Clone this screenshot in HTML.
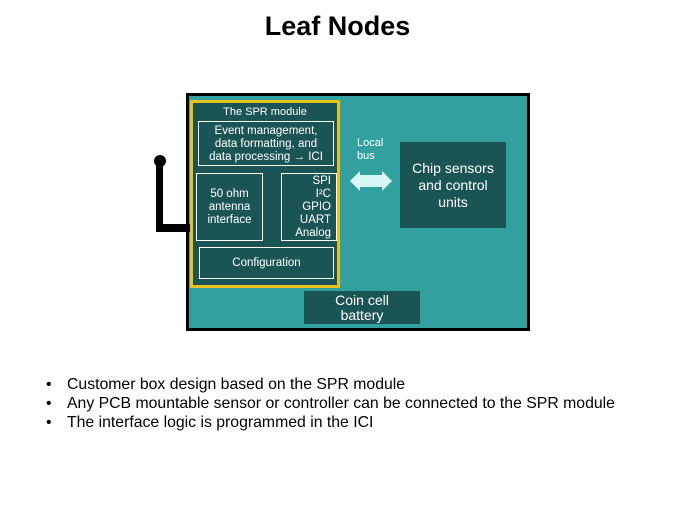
<!DOCTYPE html>
<html><head><meta charset="utf-8"><style>
body{margin:0;width:675px;height:506px;background:#fff;position:relative;font-family:"Liberation Sans",sans-serif;overflow:hidden}
.a{position:absolute;box-sizing:border-box}
.d{background:#1b5454;color:#fff;text-align:center}
.w{border:1px solid #fff}
</style></head><body>
<div class="a" style="left:0;top:11px;width:675px;text-align:center;font-size:27px;font-weight:bold;color:#000">Leaf Nodes</div>
<div class="a" style="left:186px;top:93px;width:344px;height:238px;background:#33a0a0;border:3px solid #000"></div>
<div class="a" style="left:156px;top:161px;width:7px;height:71px;background:#000"></div>
<div class="a" style="left:156px;top:224px;width:34px;height:8px;background:#000"></div>
<div class="a" style="left:154px;top:155px;width:12px;height:12px;border-radius:50%;background:#000"></div>
<div class="a d" style="left:190px;top:100px;width:150px;height:188px;border:3px solid #e8c020"></div>
<div class="a" style="left:193px;top:106px;width:144px;text-align:center;color:#fff;font-size:11px">The SPR module</div>
<div class="a d w" style="left:198px;top:121px;width:136px;height:45px;font-size:11.5px;line-height:13px;padding-top:3px;white-space:nowrap">Event management,<br>data formatting, and<br>data processing → ICI</div>
<div class="a d w" style="left:196px;top:173px;width:67px;height:68px;font-size:11.5px;line-height:13px;padding-top:14px">50 ohm<br>antenna<br>interface</div>
<div class="a d w" style="left:281px;top:173px;width:56px;height:68px;font-size:11.5px;line-height:13px;text-align:right;padding-right:5px;padding-top:1px">SPI<br>I²C<br>GPIO<br>UART<br>Analog</div>
<div class="a d w" style="left:199px;top:247px;width:135px;height:32px;font-size:11.5px;line-height:30px">Configuration</div>
<div class="a" style="left:357px;top:137px;color:#fff;font-size:11px;line-height:13px">Local<br>bus</div>
<svg class="a" style="left:348px;top:168px" width="46" height="26"><polygon points="2,13 12,3 12,7 34,7 34,3 44,13 34,23 34,19 12,19 12,23" fill="#d8f8f8"/></svg>
<div class="a d" style="left:400px;top:142px;width:106px;height:86px;font-size:14px;line-height:17px;padding-top:18px">Chip sensors<br>and control<br>units</div>
<div class="a d" style="left:304px;top:291px;width:116px;height:33px;font-size:14px;line-height:15px;padding-top:2px">Coin cell<br>battery</div>
<div class="a" style="left:0;top:375px;font-size:15.8px;line-height:19px;color:#000">
<div style="position:relative;padding-left:67px"><span style="position:absolute;left:46px">•</span>Customer box design based on the SPR module</div>
<div style="position:relative;padding-left:67px;white-space:nowrap"><span style="position:absolute;left:46px">•</span>Any PCB mountable sensor or controller can be connected to the SPR module</div>
<div style="position:relative;padding-left:67px"><span style="position:absolute;left:46px">•</span>The interface logic is programmed in the ICI</div>
</div>
</body></html>
